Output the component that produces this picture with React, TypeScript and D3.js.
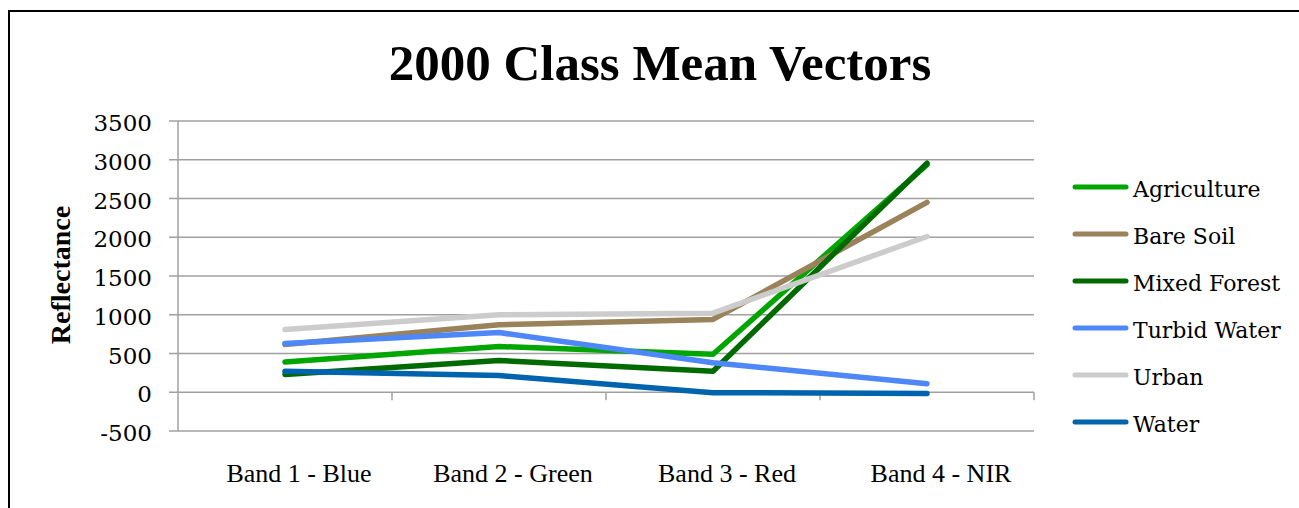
import React from "react";
import * as d3 from "d3";

const categories = ["Band 1 - Blue", "Band 2 - Green", "Band 3 - Red", "Band 4 - NIR"];
const seriesNames = ["Agriculture", "Bare Soil", "Mixed Forest", "Turbid Water", "Urban", "Water"];
const agriculture = [390, 590, 490, 2935];
const bareSoil = [615, 870, 940, 2450];
const mixedForest = [230, 410, 270, 2955];
const turbidWater = [630, 770, 380, 110];
const urban = [810, 1000, 1020, 2010];
const water = [270, 215, -5, -15];
const yTicks = [-500, 0, 500, 1000, 1500, 2000, 2500, 3000, 3500];
const colors = ["#00A600", "#9A825A", "#006A00", "#4D87F8", "#CCCCCC", "#0063AE"];

const seriesValues = [agriculture, bareSoil, mixedForest, turbidWater, urban, water];

export default function App() {
  const left = 178;
  const right = 1034;
  const top = 121;
  const bottom = 431;
  const x = d3.scaleBand<string>().domain(categories).range([left, right]).padding(0);
  const y = d3.scaleLinear().domain([-500, 3500]).range([bottom, top]);
  const line = d3
    .line<number>()
    .x((_, i) => (x(categories[i]) as number) + x.bandwidth() / 2)
    .y((v) => y(v));
  const gridColor = "#A0A0A0";
  const serif = "'Liberation Serif', serif";
  const legendY = d3.scalePoint<string>().domain(seriesNames).range([187, 422]);

  return (
    <svg
      width={1299}
      height={508}
      style={{ position: "absolute", left: 0, top: 0, display: "block", background: "#fff" }}
    >
      <rect x={9} y={11} width={1400} height={700} fill="#fff" stroke="#000" strokeWidth={2} />
      <text
        x={660}
        y={80}
        textAnchor="middle"
        fontFamily={serif}
        fontWeight="bold"
        fontSize={51}
        fill="#000"
      >
        2000 Class Mean Vectors
      </text>
      {yTicks.map((t) => (
        <g key={t}>
          <line x1={169} x2={right} y1={y(t)} y2={y(t)} stroke={gridColor} strokeWidth={1.5} />
          <text
            x={152}
            y={y(t) + 10}
            textAnchor="end"
            fontFamily="'DejaVu Serif', serif"
            fontSize={23}
            fill="#000"
          >
            {t}
          </text>
        </g>
      ))}
      <line x1={left} x2={left} y1={top} y2={bottom} stroke={gridColor} strokeWidth={1.5} />
      {categories.map((c, i) => (
        <line
          key={"t" + i}
          x1={(x(c) as number) + x.bandwidth()}
          x2={(x(c) as number) + x.bandwidth()}
          y1={y(0)}
          y2={y(0) + 8}
          stroke={gridColor}
          strokeWidth={1.5}
        />
      ))}
      {categories.map((c) => (
        <text
          key={c}
          x={(x(c) as number) + x.bandwidth() / 2 + 14}
          y={482}
          textAnchor="middle"
          fontFamily={serif}
          fontSize={26}
          fill="#000"
        >
          {c}
        </text>
      ))}
      <text
        transform={`translate(70,275) rotate(-90)`}
        textAnchor="middle"
        fontFamily={serif}
        fontWeight="bold"
        fontSize={28}
        fill="#000"
      >
        Reflectance
      </text>
      {seriesValues.map((vals, i) => (
        <path
          key={seriesNames[i]}
          d={line(vals) as string}
          fill="none"
          stroke={colors[i]}
          strokeWidth={5.5}
          strokeLinecap="round"
          strokeLinejoin="round"
        />
      ))}
      {seriesNames.map((n, i) => (
        <g key={"lg" + n}>
          <line
            x1={1075}
            x2={1126}
            y1={legendY(n) as number}
            y2={legendY(n) as number}
            stroke={colors[i]}
            strokeWidth={5}
            strokeLinecap="round"
          />
          <text
            x={1133}
            y={(legendY(n) as number) + 10}
            fontFamily="'DejaVu Serif', serif"
            fontSize={22}
            fill="#000"
          >
            {n}
          </text>
        </g>
      ))}
    </svg>
  );
}
